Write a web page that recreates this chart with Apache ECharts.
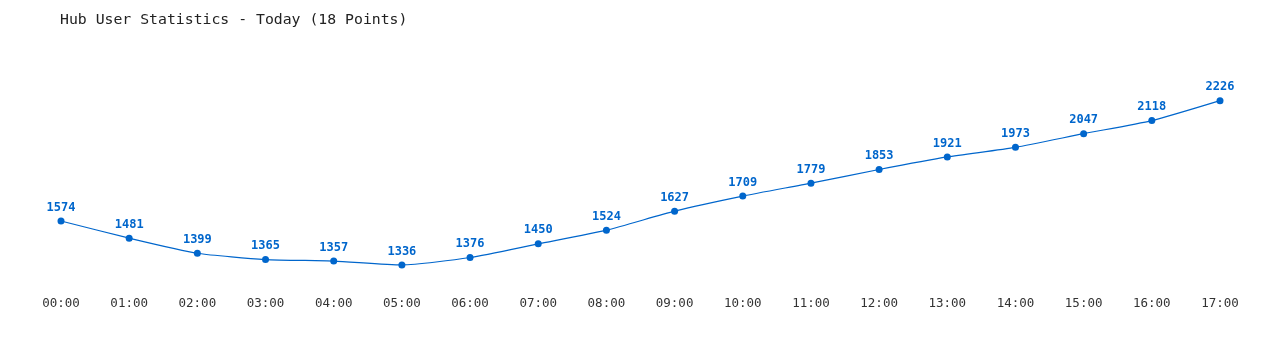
<!DOCTYPE html>
<html>
<head>
<meta charset="utf-8">
<script src="https://cdn.jsdelivr.net/npm/echarts@6/dist/echarts.min.js"></script>
<style>html,body{margin:0;padding:0;background:#fff}#c{width:1280px;height:350px}</style>
</head>
<body>
<div id="c"></div>
<script>
const categories = ["00:00","01:00","02:00","03:00","04:00","05:00","06:00","07:00","08:00","09:00","10:00","11:00","12:00","13:00","14:00","15:00","16:00","17:00"];
const users = [1574,1481,1399,1365,1357,1336,1376,1450,1524,1627,1709,1779,1853,1921,1973,2047,2118,2226];
const titleText = "Hub User Statistics - Today (18 Points)";
const mono = '"DejaVu Sans Mono","Liberation Mono",monospace';
const chart = echarts.init(document.getElementById('c'));
chart.setOption({
  animation: false,
  backgroundColor: '#fff',
  title: { text: titleText, left: 55, top: 8, textStyle: { fontFamily: mono, fontSize: 14.8, fontWeight: 'normal', color: '#222' } },
  grid: { left: 61, right: 60, top: 87, bottom: 60 },
  xAxis: {
    type: 'category', data: categories, boundaryGap: false,
    axisLine: { show: false }, axisTick: { show: false }, splitLine: { show: false },
    axisLabel: { fontFamily: mono, fontSize: 12.5, color: '#333', margin: 7 }
  },
  yAxis: { type: 'value', min: 1200, max: 2300, show: false, splitLine: { show: false } },
  series: [{
    type: 'line', data: users, smooth: 0.2,
    symbol: 'circle', symbolSize: 7,
    lineStyle: { width: 1.2, color: '#0066cc' },
    itemStyle: { color: '#0066cc' },
    label: { show: true, position: 'top', distance: 4, fontFamily: mono, fontSize: 12, fontWeight: 'bold', color: '#0066cc' }
  }]
});
</script>
</body>
</html>
